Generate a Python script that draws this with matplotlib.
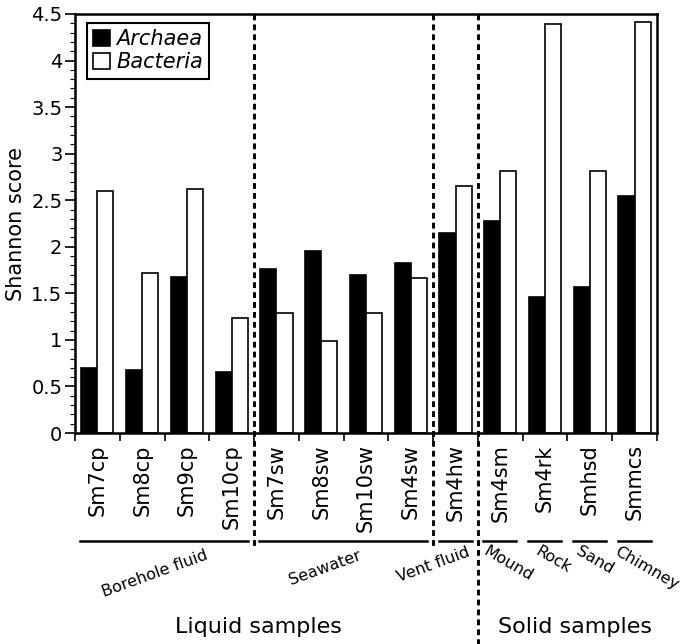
#!/usr/bin/env python3
"""Shannon diversity of Archaea / Bacteria per sample, grouped by sample type."""
import matplotlib
matplotlib.use("Agg")
import matplotlib.pyplot as plt
import matplotlib.transforms as mtransforms
from matplotlib.ticker import MultipleLocator, FixedLocator, NullFormatter
from matplotlib.patches import Patch

samples = ["Sm7cp", "Sm8cp", "Sm9cp", "Sm10cp",
           "Sm7sw", "Sm8sw", "Sm10sw", "Sm4sw",
           "Sm4hw", "Sm4sm", "Sm4rk", "Smhsd", "Smmcs"]
archaea = [0.70, 0.68, 1.68, 0.65, 1.76, 1.95, 1.70, 1.83, 2.15, 2.28, 1.46, 1.57, 2.54]
bacteria = [2.60, 1.72, 2.62, 1.24, 1.29, 0.99, 1.29, 1.66, 2.65, 2.81, 4.39, 2.81, 4.41]

# sub groups: name, first index, last index
group_names = ["Borehole fluid", "Seawater", "Vent fluid", "Mound", "Rock", "Sand", "Chimney"]
group_first = [0, 4, 8, 9, 10, 11, 12]
group_last = [3, 7, 8, 9, 10, 11, 12]

# big groups
kind_names = ["Liquid samples", "Solid samples"]
kind_first = [0, 9]
kind_last = [8, 12]

# dashed separators sit after these sample indices
separators_after = [3, 7, 8]

# layout nudges for the rotated group names (x in samples, y in axes fraction)
label_dx = [-0.21, -0.42, -0.5, 0.17, 0.18, 0.11, 0.28]
label_dy = [-0.335, -0.322, -0.315, -0.313, -0.303, -0.303, -0.322]


def main() -> None:
    fig = plt.figure(figsize=(6.86, 6.44), dpi=100)
    ax = fig.add_axes([0.1093, 0.3276, 0.8484, 0.6507])

    x = list(range(len(samples)))
    w = 0.36
    ax.bar([i - w / 2 for i in x], archaea, w, color="black", edgecolor="black",
           linewidth=1.2, label="Archaea")
    ax.bar([i + w / 2 for i in x], bacteria, w, color="white", edgecolor="black",
           linewidth=1.2, label="Bacteria")

    ax.set_xlim(-0.5, len(samples) - 0.5)
    ax.set_ylim(0, 4.5)

    # y axis
    ax.yaxis.set_major_locator(MultipleLocator(0.5))
    ax.yaxis.set_minor_locator(MultipleLocator(0.1))
    ax.set_yticklabels([f"{v:g}" for v in ax.get_yticks()])
    ax.tick_params(axis="y", which="major", direction="out", length=7, width=1.2,
                   labelsize=14, pad=2)
    ax.tick_params(axis="y", which="minor", direction="out", length=3.5, width=0.8)
    ax.set_ylabel("Shannon score", fontsize=15, labelpad=4)

    # x axis: labels at centres, ticks at boundaries
    ax.set_xticks(x)
    ax.set_xticklabels(samples, rotation=90, fontsize=15)
    ax.xaxis.set_minor_locator(FixedLocator([i - 0.5 for i in range(len(samples) + 1)]))
    ax.xaxis.set_minor_formatter(NullFormatter())
    ax.tick_params(axis="x", which="major", length=0, pad=8)
    ax.tick_params(axis="x", which="minor", direction="out", length=6, width=1.2)

    for sp in ax.spines.values():
        sp.set_linewidth(1.8)

    trans = mtransforms.blended_transform_factory(ax.transData, ax.transAxes)

    # dashed separators running below the axis
    for k, idx in enumerate(separators_after):
        bottom = -0.505 if k == len(separators_after) - 1 else -0.275
        ax.plot([idx + 0.5, idx + 0.5], [1.0, bottom], transform=trans, clip_on=False,
                color="black", linewidth=2.1, linestyle=(0, (2, 1.4)))

    # group underlines and rotated names
    for name, a, b, dx, dy in zip(group_names, group_first, group_last, label_dx, label_dy):
        ax.plot([a - 0.38, b + 0.36], [-0.258, -0.258], transform=trans,
                clip_on=False, color="black", linewidth=1.8)
        rot = 20 if b <= kind_last[0] else -30
        ax.text((a + b) / 2 + dx, dy, name, transform=trans, rotation=rot,
                ha="center", va="center", fontsize=11.5, rotation_mode="anchor")

    for name, a, b in zip(kind_names, kind_first, kind_last):
        off = -0.4 if a == 0 else 0.17
        ax.text((a + b) / 2 + off, -0.463, name, transform=trans, ha="center",
                va="center", fontsize=16)

    handles = [Patch(facecolor="black", edgecolor="black", linewidth=1.2),
               Patch(facecolor="white", edgecolor="black", linewidth=1.2)]
    leg = ax.legend(handles, ["Archaea", "Bacteria"], loc="upper left",
                    bbox_to_anchor=(12 / 582, 1 - 9 / 419), borderaxespad=0,
                    prop={"size": 15, "style": "italic"}, handlelength=0.8,
                    handleheight=0.8, handletextpad=0.3, labelspacing=0.15,
                    borderpad=0.3, fancybox=False, framealpha=1, edgecolor="black")
    leg.get_frame().set_linewidth(1.5)

    fig.savefig("out.png", dpi=100)
    plt.close(fig)


if __name__ == "__main__":
    main()
